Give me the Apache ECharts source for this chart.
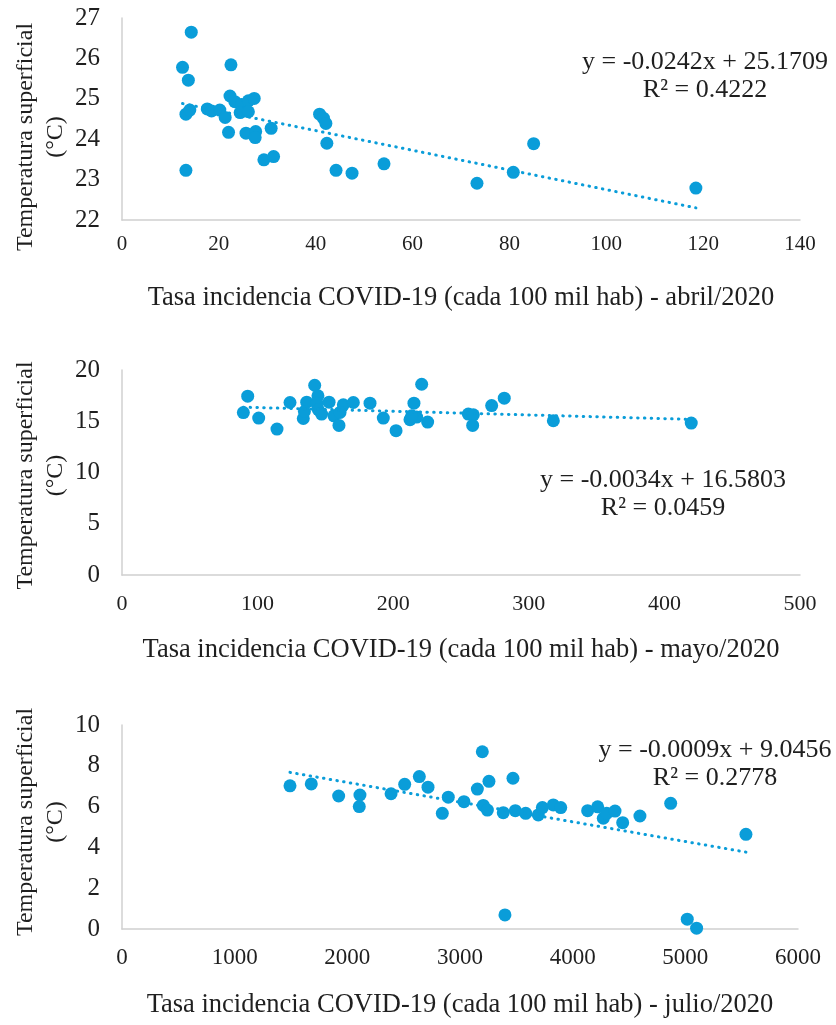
<!DOCTYPE html>
<html>
<head>
<meta charset="utf-8">
<script src="https://cdn.jsdelivr.net/npm/echarts@6/dist/echarts.min.js"></script>
<style>
  html, body { margin: 0; padding: 0; background: #fff; }
  #chart { width: 836px; height: 1025px; }
</style>
</head>
<body>
<div id="chart"></div>
<script>
// abril/2020
const abrilX = [14.3, 12.5, 13.7, 13.2, 14.0, 13.2, 22.5, 17.6, 18.5, 20.2, 21.3, 22.3, 23.3, 24.7, 26.1, 27.3,
  24.4, 26.1, 22.0, 25.6, 27.6, 27.5, 30.8, 29.3, 31.3, 40.8, 41.6, 42.1, 42.3, 44.2, 47.5,
  54.1, 73.3, 80.8, 85.0, 118.5]
const abrilY = [26.65, 25.78, 25.46, 24.62, 24.72, 23.23, 25.84, 24.75, 24.70, 24.72, 24.54, 25.07, 24.93, 24.86, 24.95, 25.01,
  24.66, 24.68, 24.17, 24.15, 24.19, 24.04, 24.27, 23.49, 23.57, 24.62, 24.52, 24.39, 23.90, 23.23, 23.16,
  23.39, 22.91, 23.18, 23.89, 22.79]

// mayo/2020
const mayoX = [92.7, 89.5, 100.8, 114.3, 123.9, 133.7, 136.2, 134.5, 142.1, 144.5, 143.6, 144.8, 147.2, 152.7, 156.3,
  160.0, 163.2, 170.6, 182.9, 160.8, 192.7, 202.1, 221.0, 215.3, 212.4, 217.3, 213.6, 225.4, 255.4, 259.1, 258.6,
  272.6, 281.9, 318.1, 419.8]
const mayoY = [17.45, 15.85, 15.31, 14.24, 16.83, 15.27, 16.86, 15.95, 18.51, 17.48, 16.76, 16.12, 15.70, 16.86, 15.53,
  14.59, 16.60, 16.83, 16.76, 15.86, 15.31, 14.08, 18.61, 16.76, 15.15, 15.41, 15.53, 14.92, 15.70, 15.63, 14.59,
  16.53, 17.25, 15.05, 14.82]

// julio/2020
const julioX = [1491, 1680, 1923, 2112, 2106, 2388, 2509, 2639, 2716, 2843, 2896, 3035, 3154, 3198, 3207, 3243, 3257,
  3384, 3399, 3470, 3491, 3583, 3695, 3731, 3828, 3894, 4133, 4222, 4272, 4302, 4376, 4444, 4597, 4870, 5017, 5100, 5538]
const julioY = [7.02, 7.11, 6.52, 6.57, 6.00, 6.63, 7.09, 7.47, 6.95, 5.67, 6.46, 6.24, 6.86, 8.69, 6.06, 5.83, 7.24,
  5.70, 0.69, 7.39, 5.80, 5.67, 5.59, 5.95, 6.08, 5.95, 5.80, 5.99, 5.43, 5.67, 5.78, 5.21, 5.54, 6.16, 0.48, 0.04, 4.64]

const equations = [
  'y = -0.0242x + 25.1709\nR² = 0.4222',
  'y = -0.0034x + 16.5803\nR² = 0.0459',
  'y = -0.0009x + 9.0456\nR² = 0.2778'
]
const xNames = [
  'Tasa incidencia COVID-19 (cada 100 mil hab) - abril/2020',
  'Tasa incidencia COVID-19 (cada 100 mil hab) - mayo/2020',
  'Tasa incidencia COVID-19 (cada 100 mil hab) - julio/2020'
]
const yName = 'Temperatura superficial\n(°C)'
const xScales = [{ min: 0, max: 140, interval: 20 }, { min: 0, max: 500, interval: 100 }, { min: 0, max: 6000, interval: 1000 }]
const yScales = [{ min: 22, max: 27, interval: 1 }, { min: 0, max: 20, interval: 5 }, { min: 0, max: 10, interval: 2 }]

const BLUE = '#0a9dd9'
const TEXT = '#1f1f1f'
const FONT = 'Liberation Serif'

// least-squares trendline, like Excel's linear trendline
function trend(xs, ys) {
  const n = xs.length
  const mx = xs.reduce((a, b) => a + b, 0) / n
  const my = ys.reduce((a, b) => a + b, 0) / n
  let sxy = 0, sxx = 0
  xs.forEach((x, i) => { sxy += (x - mx) * (ys[i] - my); sxx += (x - mx) * (x - mx) })
  const b = sxy / sxx
  const a = my - b * mx
  const x0 = Math.min(...xs), x1 = Math.max(...xs)
  return [[x0, a + b * x0], [x1, a + b * x1]]
}

const sets = [[abrilX, abrilY], [mayoX, mayoY], [julioX, julioY]]
const grids = [
  { left: 122, right: 36, top: 18, height: 202 },
  { left: 122, right: 36, top: 370, height: 205 },
  { left: 122, right: 38, top: 725, height: 204 }
].map(g => ({ ...g, containLabel: false, outerBoundsMode: 'none' }))
const labelMargins = [14, 18, 17]
const labelSizes = [21, 22, 23]
const nameGaps = [65, 62, 63]
const yNamePad = [[0, 36, 0, 0], [0, 6, 0, 0], [0, 0, 0, 10]]
const eqPos = [[705, 48], [663, 466], [715, 736]]

const axisLine = { show: true, lineStyle: { color: '#d0d0d0', width: 1.5 } }

const chart = echarts.init(document.getElementById('chart'))
chart.setOption({
  animation: false,
  grid: grids,
  xAxis: sets.map((_, i) => ({
    type: 'value', gridIndex: i, ...xScales[i],
    axisLine, axisTick: { show: false }, splitLine: { show: false },
    axisLabel: { color: TEXT, fontFamily: FONT, fontSize: labelSizes[i], margin: labelMargins[i], formatter: v => String(v) },
    name: xNames[i], nameLocation: 'middle', nameGap: nameGaps[i], nameMoveOverlap: false,
    nameTextStyle: { color: TEXT, fontFamily: FONT, fontSize: 26.5 }
  })),
  yAxis: sets.map((_, i) => ({
    type: 'value', gridIndex: i, ...yScales[i],
    axisLine, axisTick: { show: false }, splitLine: { show: false },
    axisLabel: { color: TEXT, fontFamily: FONT, fontSize: 25, margin: 22 },
    name: yName, nameLocation: 'middle', nameGap: 51, nameMoveOverlap: false,
    nameTextStyle: { color: TEXT, fontFamily: FONT, fontSize: 24, lineHeight: 30, padding: yNamePad[i] }
  })),
  series: sets.flatMap(([xs, ys], i) => [
    {
      type: 'scatter', xAxisIndex: i, yAxisIndex: i,
      data: xs.map((x, k) => [x, ys[k]]),
      symbolSize: 13, itemStyle: { color: BLUE, opacity: 1 }
    },
    {
      type: 'line', xAxisIndex: i, yAxisIndex: i,
      data: trend(xs, ys), symbol: 'none',
      lineStyle: { color: BLUE, width: 3, type: [0.5, 6.3], cap: 'round' }
    }
  ]),
  graphic: equations.map((eq, i) => ({
    type: 'text', x: eqPos[i][0], y: eqPos[i][1],
    style: { text: eq, fill: TEXT, font: '26px "Liberation Serif"', align: 'center', lineHeight: 28 }
  }))
})
</script>
</body>
</html>
